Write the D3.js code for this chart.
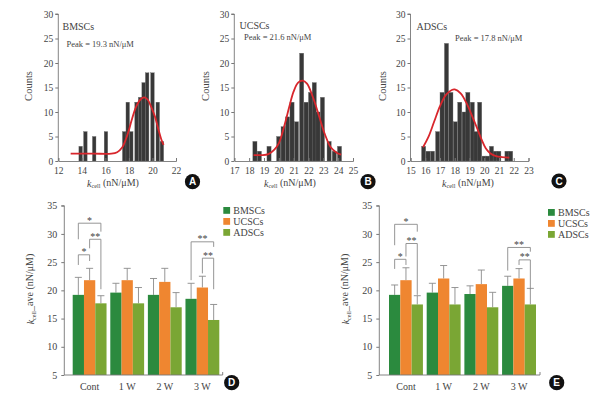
<!DOCTYPE html>
<html><head><meta charset="utf-8">
<script src="https://cdn.jsdelivr.net/npm/d3@7"></script>
<style>body{margin:0;background:#fff}svg{display:block}text{font-family:"Liberation Serif","Times New Roman",serif;fill:#444}</style>
</head><body>
<script>
// ---------- Histogram data ----------
const histA_x0 = [13.75,14.15,14.9,15.9,17.45,17.75,18.05,18.5,18.8,19.1,19.4,19.85,20.3,20.65];
const histA_count = [3,6,5,6,6,12,6,12,13,16,18,18,12,4];
const curveA_x = [13.05,15,16.5,17.0,17.44,17.72,18.0,18.23,18.6,19.0,19.3,19.6,19.9,20.22,20.5,20.78,20.95];
const curveA_y = [1.5,1.5,1.5,1.8,2.8,4.3,6.3,8.3,11,12.6,13,12.5,11,9,6.5,4.2,3.3];

const histB_x0 = [18.25,18.55,19.2,19.85,20.15,20.45,20.75,21.05,21.4,21.7,22.0,22.25,22.5,22.8,23.25,23.6,23.95];
const histB_count = [4,2,3,5,7,9,12,8,22,12,14,16,10,13,4,2,3];
const curveB_x = [18.3,18.8,19.3,19.7,20.0,20.4,20.7,21.0,21.3,21.6,21.9,22.3,22.7,23.1,23.5,23.9,24.2];
const curveB_y = [1.2,1.2,1.4,2.3,3.6,7.5,11,14.2,16,16.4,15.8,13,9.3,5.5,2.8,1.7,1.3];

const histC_x0 = [15.75,16.05,16.35,16.7,17.0,17.3,17.6,17.9,18.2,18.5,18.75,19.05,19.3,19.55,19.85,20.1,20.35,20.6,20.85,21.4,21.65];
const histC_count = [3,2,2,6,14,24,14,8,12,10,14,12,6,12,1,1,3,2,2,2,2];
const curveC_x = [15.85,16.2,16.6,17.0,17.4,17.8,18.0,18.4,18.8,19.2,19.5,19.8,20.1,20.4,20.8,21.2,21.7];
const curveC_y = [2.8,4.8,8,11.2,13.5,14.5,14.6,13.8,11.8,9,6.8,4.5,2.6,1.6,1.0,0.8,0.7];

const countTicks = [0,5,10,15,20,25,30];
const ticksA = [12,14,16,18,20,22];
const ticksB = [17,18,19,20,21,22,23,24,25];
const ticksC = [15,16,17,18,19,20,21,22,23];

// ---------- Bar chart data ----------
const groups = ["Cont","1 W","2 W","3 W"];
const seriesNames = ["BMSCs","UCSCs","ADSCs"];
const seriesColors = ["#2b8a3e","#ef8630","#7aa634"];
const valTicks = [5,10,15,20,25,30,35];

const dMean_BMSCs = [19.2,19.6,19.2,18.5];
const dMean_UCSCs = [21.8,21.8,21.5,20.5];
const dMean_ADSCs = [17.7,17.7,17.0,14.75];
const dSD_BMSCs = [3.1,1.65,2.9,2.75];
const dSD_UCSCs = [2.1,2.1,2.4,2.0];
const dSD_ADSCs = [1.35,2.8,2.6,2.75];

const eMean_BMSCs = [19.2,19.6,19.35,20.8];
const eMean_UCSCs = [21.8,22.1,21.1,22.1];
const eMean_ADSCs = [17.5,17.5,17.0,17.5];
const eSD_BMSCs = [1.75,1.65,1.45,1.7];
const eSD_UCSCs = [2.2,2.3,2.5,1.75];
const eSD_ADSCs = [1.55,3.0,2.65,2.85];

// significance brackets: group, series a, series b, top, leg a end, leg b end, label
const dBrackets = [
  [0,0,1,26.3,24.5,25.2,"*"],
  [0,1,2,29.05,27.45,20.2,"**"],
  [0,0,2,31.9,29.05,30.4,"*"],
  [3,0,2,28.6,21.8,27.7,"**"],
  [3,1,2,25.7,23.0,20.2,"**"]
];
const eBrackets = [
  [0,0,1,25.5,23.8,24.5,"*"],
  [0,1,2,28.3,26.0,19.2,"**"],
  [0,0,2,31.7,28.0,30.4,"*"],
  [3,0,2,27.6,23.5,26.85,"**"],
  [3,1,2,25.4,24.5,20.2,"**"]
];

const svg = d3.select("body").append("svg").attr("width",609).attr("height",400);
svg.append("rect").attr("width",609).attr("height",400).attr("fill","#fff");

function kLabel(sel, suffix){
  sel.append("tspan").attr("font-style","italic").text("k");
  sel.append("tspan").attr("font-size","0.62em").attr("dy","0.25em").text("cell");
  sel.append("tspan").attr("dy","-0.25em").text(suffix);
}

function panelLabel(x,y,t){
  svg.append("circle").attr("cx",x).attr("cy",y).attr("r",7.6).attr("fill","#111");
  svg.append("text").attr("x",x).attr("y",y+3.6).attr("text-anchor","middle")
    .style("font-family","Arial, 'Liberation Sans', sans-serif").style("font-weight","bold")
    .style("font-size","10px").style("fill","#fff").text(t);
}

function histogram(o){
  const g = svg.append("g");
  const x = d3.scaleLinear().domain(o.xdom).range(o.xr);
  const y = d3.scaleLinear().domain([0,30]).range([161,14]);
  // bars
  g.selectAll("rect.bar").data(o.x0.map((v,i)=>({x0:v,c:o.counts[i]}))).join("rect")
    .attr("x",d=>x(d.x0)).attr("width",d=>x(d.x0+o.bw)-x(d.x0))
    .attr("y",d=>y(d.c)).attr("height",d=>y(0)-y(d.c))
    .attr("fill","#383838").attr("stroke","#6a6a6a").attr("stroke-width",0.35);
  // curve
  const pts = o.cx.map((v,i)=>[x(v),y(o.cy[i])]);
  g.append("path").attr("d",d3.line().curve(d3.curveCatmullRom)(pts))
    .attr("fill","none").attr("stroke","#d8262c").attr("stroke-width",1.8);
  // axes
  const ya = g.append("g").attr("transform",`translate(${o.xr[0]},0)`)
    .call(d3.axisLeft(y).tickValues(countTicks).tickSize(3).tickPadding(2));
  const xa = g.append("g").attr("transform",`translate(0,161)`)
    .call(d3.axisBottom(x).tickValues(o.ticks).tickSize(-3).tickPadding(6).tickFormat(d3.format("d")));
  [ya,xa].forEach(a=>{
    a.select(".domain").attr("stroke","#777").attr("stroke-width",0.9);
    a.selectAll(".tick line").attr("stroke","#777");
    a.selectAll("text").style("font-family","'Liberation Serif',serif").style("font-size","9.5px").style("fill","#444");
  });
  ya.select(".domain").attr("d",`M-3,${y(30)}H0V${y(0)}`);
  // labels
  g.append("text").attr("transform",`translate(${o.countsX},86) rotate(-90)`).attr("text-anchor","middle")
    .style("font-size","10.5px").text("Counts");
  const xl = g.append("text").attr("x",o.xlabX).attr("y",186.5).attr("text-anchor","middle").style("font-size","10px");
  kLabel(xl," (nN/μM)");
  g.append("text").attr("x",o.nameX).attr("y",o.nameY).style("font-size","10px").text(o.name);
  g.append("text").attr("x",o.peakX).attr("y",o.peakY).style("font-size","8.5px").text(o.peak);
}

histogram({xdom:[12,22],xr:[58.3,176],x0:histA_x0,counts:histA_count,bw:0.3,cx:curveA_x,cy:curveA_y,
  ticks:ticksA,countsX:32,xlabX:113,name:"BMSCs",nameX:62.5,nameY:29.5,peak:"Peak = 19.3 nN/μM",peakX:66.5,peakY:47.3});
histogram({xdom:[17,25],xr:[234.3,353],x0:histB_x0,counts:histB_count,bw:0.28,cx:curveB_x,cy:curveB_y,
  ticks:ticksB,countsX:209,xlabX:290,name:"UCSCs",nameX:239.5,nameY:28.5,peak:"Peak = 21.6 nN/μM",peakX:244,peakY:39.8});
histogram({xdom:[15,23],xr:[410.5,528.5],x0:histC_x0,counts:histC_count,bw:0.28,cx:curveC_x,cy:curveC_y,
  ticks:ticksC,countsX:386,xlabX:468,name:"ADSCs",nameX:416.5,nameY:29.5,peak:"Peak = 17.8 nN/μM",peakX:455,peakY:40.5});

panelLabel(192.5,181.7,"A");
panelLabel(368,181.7,"B");
panelLabel(559,181,"C");

function barChart(o){
  const g = svg.append("g");
  const y = d3.scaleLinear().domain([5,35]).range([375,205.7]);
  const x0 = d3.scaleBand().domain(groups).range(o.br).paddingInner(0.1).paddingOuter(0);
  const x1 = d3.scaleBand().domain(seriesNames).range([0,x0.bandwidth()]);
  const means = o.means, sds = o.sds;
  seriesNames.forEach((s,si)=>{
    const data = groups.map((gname,gi)=>({g:gname,m:means[si][gi],sd:sds[si][gi]}));
    // error bars
    g.selectAll(null).data(data).join("path")
      .attr("d",d=>{const cx=x0(d.g)+x1(s)+x1.bandwidth()/2;
        return `M${cx},${y(d.m)}V${y(d.m+d.sd)}M${cx-3.5},${y(d.m+d.sd)}H${cx+3.5}`;})
      .attr("stroke","#8a8a8a").attr("stroke-width",0.9).attr("fill","none");
    g.selectAll(null).data(data).join("rect")
      .attr("x",d=>x0(d.g)+x1(s)).attr("width",x1.bandwidth())
      .attr("y",d=>y(d.m)).attr("height",d=>y(5)-y(d.m)).attr("fill",seriesColors[si]);
  });
  // brackets
  o.brackets.forEach(b=>{
    const gname = groups[b[0]];
    const xa = x0(gname)+x1(seriesNames[b[1]])+x1.bandwidth()/2;
    const xb = x0(gname)+x1(seriesNames[b[2]])+x1.bandwidth()/2;
    g.append("path").attr("d",`M${xa},${y(b[4])}V${y(b[3])}H${xb}V${y(b[5])}`)
      .attr("fill","none").attr("stroke","#8a8a8a").attr("stroke-width",0.9);
    g.append("text").attr("x",(xa+xb)/2).attr("y",y(b[3])+0.5).attr("text-anchor","middle")
      .style("font-size","10px").text(b[6]);
  });
  // axes
  const ya = g.append("g").attr("transform",`translate(${o.ax[0]},0)`)
    .call(d3.axisLeft(y).tickValues(valTicks).tickSize(3).tickPadding(4));
  ya.select(".domain").attr("d",`M-3,${y(35)}H0V${y(5)}`);
  const xa = g.append("g").attr("transform","translate(0,375)")
    .call(d3.axisBottom(x0).tickSize(0).tickPadding(8));
  xa.select(".domain").attr("d",`M${o.ax[0]},0H${o.ax[1]}V-3`);
  [ya,xa].forEach(a=>{
    a.select(".domain").attr("stroke","#777").attr("stroke-width",0.9).attr("fill","none");
    a.selectAll(".tick line").attr("stroke","#777");
    a.selectAll("text").style("font-family","'Liberation Serif',serif").style("font-size","10px").style("fill","#444");
  });
  // y label
  const yl = g.append("text").attr("transform",`translate(${o.ylabX},289) rotate(-90)`)
    .attr("text-anchor","middle").style("font-size","10px");
  kLabel(yl,"_ave (nN/μM)");
  // legend
  seriesNames.forEach((s,i)=>{
    g.append("rect").attr("x",o.legX).attr("y",o.legY+i*11-6.5).attr("width",6.8).attr("height",6.8).attr("fill",seriesColors[i]);
    g.append("text").attr("x",o.legX+10).attr("y",o.legY+i*11+0.8).style("font-size","10px").text(s);
  });
}

barChart({br:[72.7,219.3],ax:[64.3,222.7],means:[dMean_BMSCs,dMean_UCSCs,dMean_ADSCs],
  sds:[dSD_BMSCs,dSD_UCSCs,dSD_ADSCs],brackets:dBrackets,ylabX:34,legX:223.3,legY:213.5});
barChart({br:[389,536],ax:[379.3,540],means:[eMean_BMSCs,eMean_UCSCs,eMean_ADSCs],
  sds:[eSD_BMSCs,eSD_UCSCs,eSD_ADSCs],brackets:eBrackets,ylabX:349,legX:548,legY:215.5});

panelLabel(231.7,382.7,"D");
panelLabel(556.7,382.7,"E");
</script>
</body></html>
